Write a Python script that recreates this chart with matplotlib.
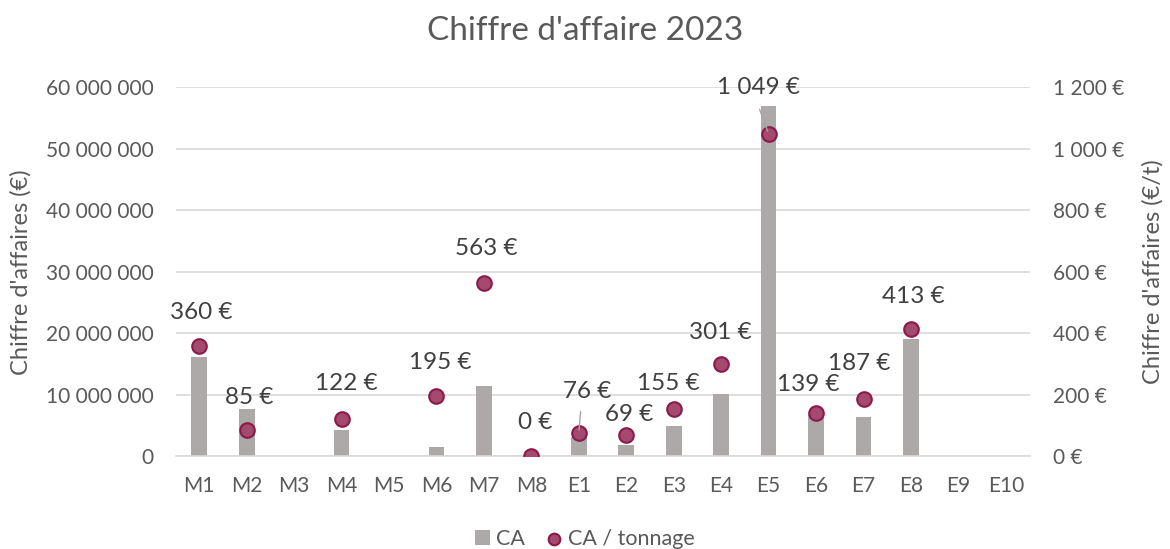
import matplotlib.pyplot as plt
from matplotlib.ticker import FuncFormatter
import numpy as np

plt.rcParams['font.family'] = ['Lato', 'DejaVu Sans']

sites = ['M1', 'M2', 'M3', 'M4', 'M5', 'M6', 'M7', 'M8', 'E1', 'E2',
         'E3', 'E4', 'E5', 'E6', 'E7', 'E8', 'E9', 'E10']
ca = [16.2e6, 7.6e6, 0, 4.3e6, 0, 1.5e6, 11.4e6, 0, 3.2e6, 1.8e6,
      4.9e6, 10.2e6, 56.9e6, 6.7e6, 6.3e6, 19.0e6, 0, 0]
ca_tonnage = [360, 85, np.nan, 122, np.nan, 195, 563, 0, 76, 69,
              155, 301, 1049, 139, 187, 413, np.nan, np.nan]

# label offsets (pixels) as placed in the original
lab_off = [(2, 33), (3, 33), None, (5, 35), None, (4, 34), (2, 35), (4, 34),
           (8, 41), (3, 21), (-5, 25), (-1, 31), (-10, 46), (-8, 29), (-4, 35), (2, 33),
           None, None]

grey_txt = '#595959'
bar_col = '#ADA9A8'

fig = plt.figure(figsize=(11.7, 5.49), dpi=100)
ax = fig.add_axes([0.150, 0.169, 0.730, 0.672])
ax2 = ax.twinx()

x = np.arange(len(sites))
ax.bar(x, ca, width=0.33, color=bar_col, zorder=2, label='CA')
ax.set_ylim(0, 60e6)
ax.set_yticks(np.arange(0, 60e6 + 1, 10e6))
ax.yaxis.set_major_formatter(FuncFormatter(lambda v, p: f'{int(v):,}'.replace(',', ' ')))
ax.grid(axis='y', color='#D9D9D9', lw=1.2, zorder=0)
ax.set_axisbelow(True)
ax.set_xlim(-0.5, len(sites) - 0.5)
ax.set_xticks(x)
ax.set_xticklabels(sites)

ax2.scatter(x, ca_tonnage, s=110, color='#A34A6E', edgecolor='#8B1A4A', lw=1.5,
            zorder=3, label='CA / tonnage')
ax2.set_ylim(0, 1200)
ax2.set_yticks(np.arange(0, 1201, 200))
ax2.yaxis.set_major_formatter(FuncFormatter(lambda v, p: f'{int(v):,} €'.replace(',', ' ')))

for i, v in enumerate(ca_tonnage):
    if np.isnan(v):
        continue
    dx, dy = lab_off[i]
    txt = f'{int(v):,} €'.replace(',', ' ')
    ax2.annotate(txt, (x[i], v), xytext=(dx, dy), textcoords='offset pixels',
                 ha='center', va='center', fontsize=17.5, color='#404040', zorder=4)

# leader lines for moved labels
ax2.annotate('', (x[8], ca_tonnage[8]), xytext=(2, 24), textcoords='offset pixels',
             arrowprops=dict(arrowstyle='-', color='#A6A6A6', lw=1))
ax2.annotate('', (x[12], ca_tonnage[12]), xytext=(-10, 27), textcoords='offset pixels',
             arrowprops=dict(arrowstyle='-', color='#A6A6A6', lw=1))

for a in (ax, ax2):
    for s in a.spines.values():
        s.set_visible(False)
    a.tick_params(length=0, labelsize=15, colors=grey_txt)
ax.tick_params(axis='y', pad=16)
ax2.tick_params(axis='y', pad=17)
ax.tick_params(axis='x', pad=14)
ax.spines['bottom'].set_visible(True)
ax.spines['bottom'].set_color('#D9D9D9')
ax.spines['bottom'].set_linewidth(1.2)

ax.set_ylabel("Chiffre d'affaires (€)", fontsize=17, color=grey_txt)
ax2.set_ylabel("Chiffre d'affaires (€/t)", fontsize=17, color=grey_txt)
ax.yaxis.set_label_coords(-0.168, 0.5)
ax2.yaxis.set_label_coords(1.132, 0.5)
fig.suptitle("Chiffre d'affaire 2023", fontsize=24, color=grey_txt, y=0.97)

h1, l1 = ax.get_legend_handles_labels()
h2, l2 = ax2.get_legend_handles_labels()
fig.legend(h1 + h2, l1 + l2, loc='lower center', ncol=2, frameon=False,
           fontsize=15.5, labelcolor=grey_txt, bbox_to_anchor=(0.5, -0.035),
           handlelength=0.7, handleheight=0.7, handletextpad=0.3, columnspacing=1.0,
           markerscale=0.8)

fig.savefig('out.png', dpi=100)
